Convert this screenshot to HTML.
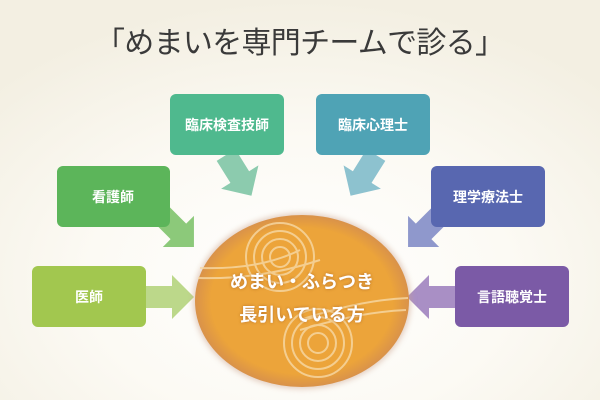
<!DOCTYPE html>
<html><head><meta charset="utf-8"><style>
body{margin:0;width:600px;height:400px;overflow:hidden;font-family:"Liberation Sans","Noto Sans CJK JP",sans-serif}
</style></head><body>
<svg width="600" height="400" xmlns="http://www.w3.org/2000/svg" style="display:block">
<defs>
<radialGradient id="bg" cx="0.5" cy="0.7" r="0.7">
<stop offset="0" stop-color="#ffffff"/><stop offset="0.5" stop-color="#fcfaf4"/><stop offset="1" stop-color="#f3efe2"/>
</radialGradient>
<radialGradient id="og" cx="0.5" cy="0.5" r="0.5">
<stop offset="0.85" stop-color="#eca43a"/><stop offset="1" stop-color="#d9924a"/>
</radialGradient>
<filter id="sh"><feGaussianBlur stdDeviation="3"/></filter>
<filter id="ts"><feDropShadow dx="0" dy="0" stdDeviation="1.5" flood-color="#b06a20" flood-opacity="0.9"/></filter>
<g id="arr"><polygon points="0,-11 26,-11 26,-22 48,0 26,22 26,11 0,11"/></g>
</defs>
<rect width="600" height="400" fill="url(#bg)"/>
<text x="300" y="53" text-anchor="middle" font-size="30" fill="#3a3a3a" textLength="410" font-family="Liberation Sans,Noto Sans CJK JP,sans-serif">「めまいを専門チームで診る」</text>

<use href="#arr" transform="translate(146,297)" fill="#bcd88a"/>
<use href="#arr" transform="translate(160,213) rotate(45)" fill="#8cc97a"/>
<use href="#arr" transform="translate(226,155) rotate(58)" fill="#8ccbae"/>
<use href="#arr" transform="translate(376,155) rotate(122)" fill="#8dc2cf"/>
<use href="#arr" transform="translate(442,213) rotate(135)" fill="#8f98cc"/>
<use href="#arr" transform="translate(455,297) rotate(180)" fill="#a98fc5"/>

<ellipse cx="302" cy="301" rx="109" ry="88" fill="#c9a089" opacity="0.5" filter="url(#sh)"/>
<ellipse cx="302" cy="301" rx="107" ry="86" fill="url(#og)"/>
<g fill="none" stroke="#f7d9a6" stroke-width="2" opacity="0.8">
<circle cx="280" cy="257" r="10"/><circle cx="280" cy="257" r="18"/><circle cx="280" cy="257" r="26"/><circle cx="280" cy="257" r="34"/>
<circle cx="318" cy="343" r="10"/><circle cx="318" cy="343" r="18"/><circle cx="318" cy="343" r="26"/><circle cx="318" cy="343" r="34"/>
<path d="M200 268 Q260 270 300 250"/><path d="M198 278 Q260 280 320 260"/>
<path d="M300 320 Q360 300 408 298"/><path d="M300 330 Q360 312 406 310"/>
</g>
<g filter="url(#ts)" font-size="18" font-weight="bold" fill="#fff" text-anchor="middle">
<text x="302" y="288">めまい・ふらつき</text>
<text x="302" y="321">長引いている方</text>
</g>

<g font-size="14" font-weight="bold" fill="#fff" text-anchor="middle">
<rect x="32" y="266" width="114" height="61" rx="6" fill="#a2c74f"/><text x="89" y="302">医師</text>
<rect x="57" y="166" width="113" height="61" rx="6" fill="#5cb55a"/><text x="113" y="202">看護師</text>
<rect x="170" y="94" width="114" height="61" rx="6" fill="#4fb98e"/><text x="227" y="130">臨床検査技師</text>
<rect x="316" y="94" width="114" height="61" rx="6" fill="#4fa3b5"/><text x="373" y="130">臨床心理士</text>
<rect x="431" y="166" width="114" height="61" rx="6" fill="#5867b0"/><text x="488" y="202">理学療法士</text>
<rect x="455" y="266" width="114" height="61" rx="6" fill="#7b5aa6"/><text x="512" y="302">言語聴覚士</text>
</g>
</svg>
</body></html>
